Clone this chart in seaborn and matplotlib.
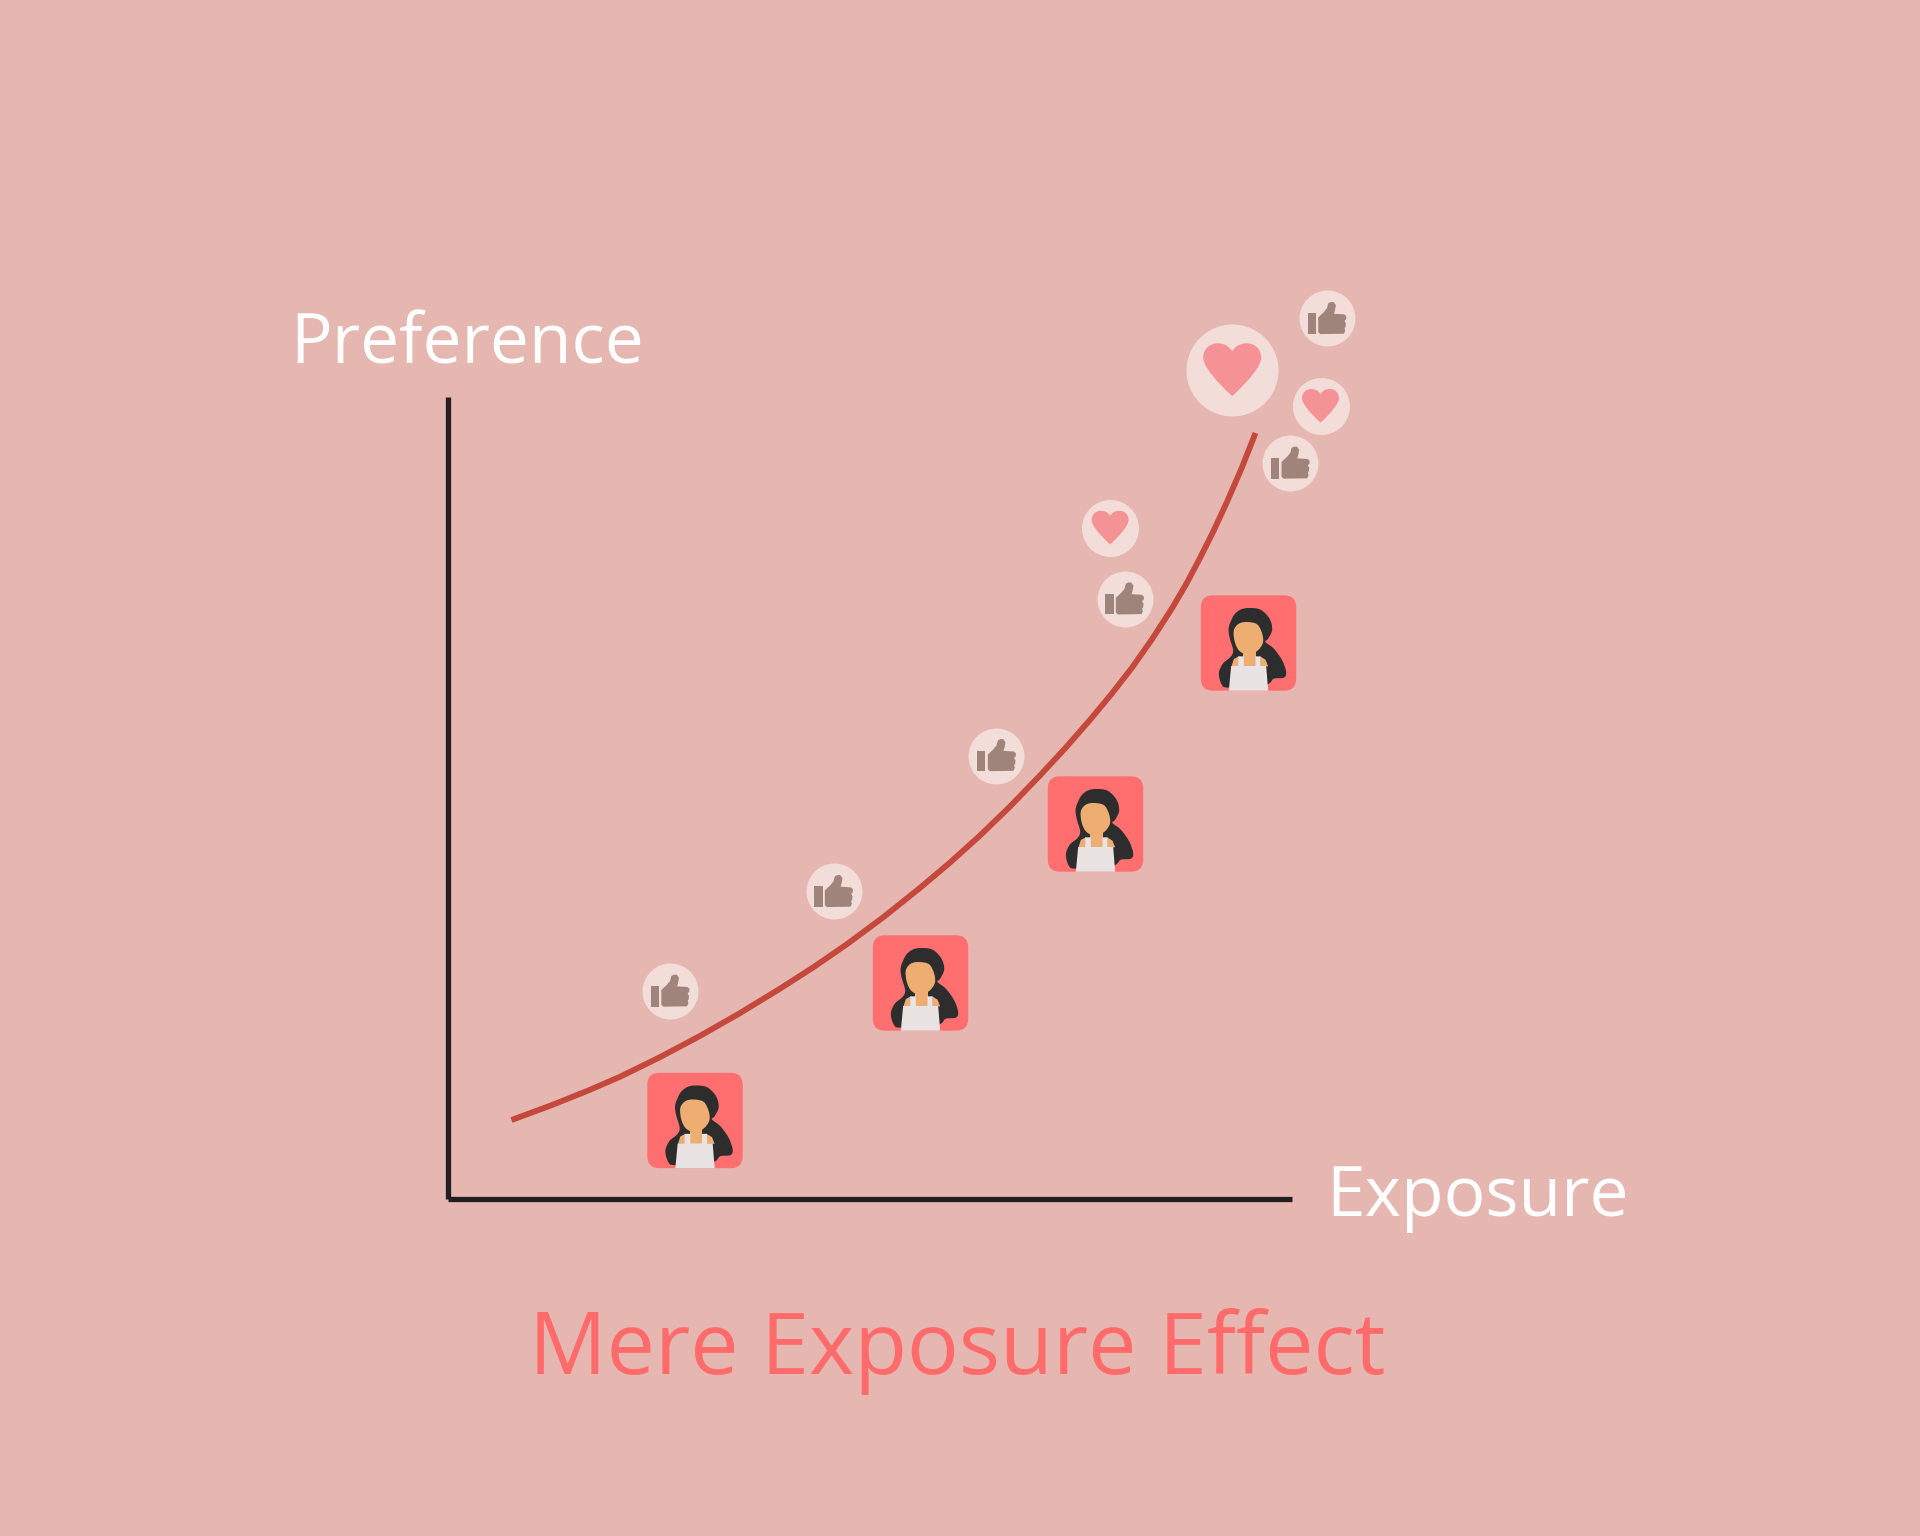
import numpy as np
import pandas as pd
import seaborn as sns
import matplotlib.pyplot as plt

from matplotlib.patches import FancyBboxPatch, PathPatch
from matplotlib.path import Path
from matplotlib.transforms import Affine2D

# Exposure / preference values, one unit is one pixel
curve_exposure = [64, 103, 142, 172, 212, 252, 292, 332, 366, 399, 436, 472, 502, 532, 562, 592,
                  617, 642, 664, 685, 705, 725, 739, 752, 766, 779, 794, 808]
curve_preference = [79, 93.4, 109, 122, 141.6, 162.8, 185.6, 210, 231.8, 254.5, 281.9, 310.7, 336, 363,
                    392, 423, 450, 478.5, 505, 532, 560.5, 591.5, 615.5, 640, 668, 696, 730.5, 766]

portrait_exposure = [247.5, 473, 648, 801]
portrait_preference = [78.5, 216, 375, 556]

like_exposure = [222.5, 386, 549, 677, 842.7, 879.4]
like_preference = [208, 307.6, 443.5, 600.2, 736, 880.6]

heart_exposure = [662.6, 873]
heart_preference = [671.2, 793]

big_heart_exposure = [784.7]
big_heart_preference = [829]

x_label = 'Exposure'
y_label = 'Preference'
title = 'Mere Exposure Effect'

BACKGROUND = '#E6B6B0'
AXIS = '#231F20'
CURVE = '#C4483B'
TILE = '#FF6F70'
BUBBLE = '#F2DDD9'
THUMB = '#9F847B'
HEART = '#F59295'
HAIR = '#2D2D2D'
SKIN = '#EEAE72'
TOP = '#E9E3E4'
TITLE = '#FF6B6B'

FONT = 'Open Sans'

def blob(points):
  # Closed smooth outline that goes through the given points (Catmull-Rom)
  pts = np.array(points, dtype=float)
  before = np.roll(pts, 1, axis=0)
  after = np.roll(pts, -1, axis=0)
  after2 = np.roll(pts, -2, axis=0)
  verts = [pts[0]]
  codes = [Path.MOVETO]
  for p0, p1, p2, p3 in zip(before, pts, after, after2):
    verts += [p1 + (p2 - p0) / 6, p2 - (p3 - p1) / 6, p2]
    codes += [Path.CURVE4] * 3
  return Path(verts, codes)

def polygon(points):
  return Path(list(points) + [points[0]], closed=True)

def stamp(ax, glyph, x, y, color, scale=1.0, zorder=4):
  # Puts a glyph on the data position (x, y), glyph units are pixels
  transform = Affine2D().scale(scale).translate(x, y) + ax.transData
  ax.add_patch(PathPatch(glyph, facecolor=color, edgecolor='none', transform=transform,
                         clip_on=False, zorder=zorder))

def zoomed(points, cx, cy):
  # Outlines were traced on a 3x crop with y going down
  return [((px - cx) / 3, (cy - py) / 3) for px, py in points]

HEART_GLYPH = Path(
  [(0, 0.64), (0.1, 0.82), (0.28, 0.92), (0.5, 0.92), (0.8, 0.92), (1, 0.7), (1, 0.42),
   (1, 0.15), (0.6, -0.35), (0, -0.9), (-0.6, -0.35), (-1, 0.15), (-1, 0.42),
   (-1, 0.7), (-0.8, 0.92), (-0.5, 0.92), (-0.28, 0.92), (-0.1, 0.82), (0, 0.64)],
  [Path.MOVETO] + [Path.CURVE4] * 18
)

THUMB_BAR = polygon(zoomed([(102, 560), (127, 560), (127, 622), (102, 622)], 160, 575))
THUMB_HAND = polygon(zoomed([
  (140, 622), (134, 616), (134, 572), (150, 557), (160, 545), (164, 530), (171, 526), (180, 526),
  (187, 535), (184, 552), (181, 561), (212, 563), (218, 568), (218, 577), (213, 582), (217, 590),
  (216, 600), (213, 604), (215, 612), (211, 621)
], 160, 575))

HAIR_GLYPH = blob(zoomed([
  (750, 563), (785, 568), (812, 595), (820, 628), (808, 655), (800, 665), (825, 685), (850, 720),
  (862, 755), (855, 772), (825, 775), (810, 790), (770, 802), (690, 802), (670, 795), (660, 760),
  (672, 730), (695, 710), (703, 690), (692, 650), (690, 620), (705, 585), (725, 568)
], 749, 668))
FACE_GLYPH = blob(zoomed([
  (745, 605), (775, 612), (790, 640), (792, 668), (775, 692), (748, 703), (722, 692), (708, 665),
  (705, 630), (720, 610)
], 749, 668))
NECK_GLYPH = polygon(zoomed([(733, 680), (770, 680), (770, 738), (733, 738)], 749, 668))
SHOULDER_LEFT = polygon(zoomed([(698, 738), (705, 716), (720, 708), (720, 738)], 749, 668))
SHOULDER_RIGHT = polygon(zoomed([(784, 708), (800, 718), (808, 738), (784, 738)], 749, 668))
TOP_GLYPH = polygon(zoomed([
  (697, 737), (718, 737), (718, 708), (735, 708), (735, 737), (770, 737), (770, 708), (785, 708),
  (785, 737), (802, 737), (808, 811), (690, 811)
], 749, 668))

def draw_portrait(ax, x, y):
  tile = FancyBboxPatch((-35.5, -35.5), 71, 71, boxstyle='round,pad=12.2,rounding_size=12.2',
                        facecolor=TILE, edgecolor='none', clip_on=False, zorder=3,
                        transform=Affine2D().translate(x, y) + ax.transData)
  ax.add_patch(tile)
  stamp(ax, HAIR_GLYPH, x, y, HAIR)
  stamp(ax, NECK_GLYPH, x, y, SKIN, zorder=5)
  stamp(ax, SHOULDER_LEFT, x, y, SKIN, zorder=5)
  stamp(ax, SHOULDER_RIGHT, x, y, SKIN, zorder=5)
  stamp(ax, FACE_GLYPH, x, y, SKIN, zorder=5)
  stamp(ax, TOP_GLYPH, x, y, TOP, zorder=6)

def bubbles(ax, xs, ys, diameter):
  data = pd.DataFrame({'exposure': xs, 'preference': ys})
  sns.scatterplot(data=data, x='exposure', y='preference', ax=ax, color=BUBBLE,
                  s=(diameter * 0.72) ** 2, linewidth=0, clip_on=False, zorder=3, legend=False)

sns.set_theme(style='white')
plt.rcParams['font.family'] = [FONT, 'DejaVu Sans']

fig = plt.figure(figsize=(19.2, 15.36), dpi=100, facecolor=BACKGROUND)
ax = fig.add_axes([447.5 / 1920, 337 / 1536, 844.5 / 1920, 802 / 1536])
ax.set_facecolor(BACKGROUND)

curve = pd.DataFrame({'exposure': curve_exposure, 'preference': curve_preference})
sns.lineplot(data=curve, x='exposure', y='preference', ax=ax, color=CURVE, linewidth=4.2,
             errorbar=None, sort=False, solid_capstyle='butt', clip_on=False, zorder=2)

bubbles(ax, like_exposure, like_preference, 56)
bubbles(ax, heart_exposure, heart_preference, 57)
bubbles(ax, big_heart_exposure, big_heart_preference, 92)

for x, y in zip(like_exposure, like_preference):
  stamp(ax, THUMB_BAR, x, y, THUMB)
  stamp(ax, THUMB_HAND, x, y, THUMB)

for x, y in zip(heart_exposure, heart_preference):
  stamp(ax, HEART_GLYPH, x, y, HEART, scale=18.5)

for x, y in zip(big_heart_exposure, big_heart_preference):
  stamp(ax, HEART_GLYPH, x, y, HEART, scale=29)

for x, y in zip(portrait_exposure, portrait_preference):
  draw_portrait(ax, x, y)

ax.set_xlim(0, 844.5)
ax.set_ylim(0, 802)
ax.set_xticks([])
ax.set_yticks([])
ax.set_xlabel('')
ax.set_ylabel('')
sns.despine(ax=ax)
for side in ['left', 'bottom']:
  ax.spines[side].set_linewidth(3.8)
  ax.spines[side].set_color(AXIS)
  ax.spines[side].set_capstyle('butt')

ax.text(-157.5, 836, y_label, fontsize=50, color='white', ha='left', va='baseline')
ax.text(879, -17, x_label, fontsize=50, color='white', ha='left', va='baseline')
ax.text(509.6, -175, title, fontsize=62.2, color=TITLE, ha='center', va='baseline')

fig.savefig('out.png', dpi=100, facecolor=BACKGROUND)
